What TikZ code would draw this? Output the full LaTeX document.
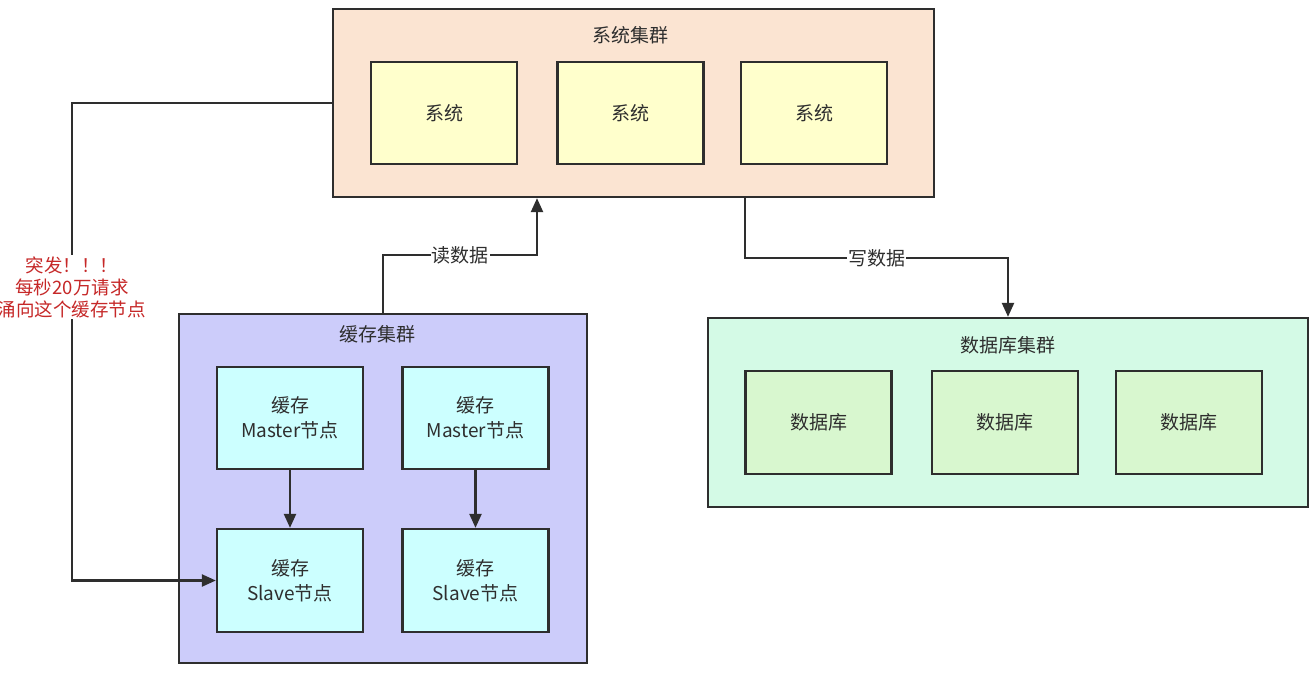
\documentclass[tikz,border=0pt]{standalone}
\usepackage{fontspec}
\setmainfont{Noto Sans CJK SC}
\usetikzlibrary{arrows.meta}
\definecolor{sysc}{HTML}{FBE4D2}
\definecolor{sysb}{HTML}{FFFFCC}
\definecolor{cachec}{HTML}{CCCCFA}
\definecolor{cacheb}{HTML}{CCFFFF}
\definecolor{dbc}{HTML}{D4FAE6}
\definecolor{dbb}{HTML}{D8F7CF}
\definecolor{ink}{HTML}{2E2E2E}
\definecolor{alert}{HTML}{C62828}
\tikzset{
  cluster/.style={draw=ink, line width=2.3pt, anchor=center},
  box/.style={draw=ink, line width=2.3pt, minimum width=146pt, minimum height=102pt, align=center, text=ink, font=\fontsize{19}{25}\selectfont},
  title/.style={text=ink, font=\fontsize{19}{22}\selectfont},
  arr/.style={draw=ink, line width=2.3pt, -{Triangle[length=14pt,width=12pt]}},
  lbl/.style={fill=white, inner sep=1pt, text=ink, font=\fontsize{19}{22}\selectfont},
  redtxt/.style={fill=white, inner sep=1pt, text=alert, align=center, font=\fontsize{18.5}{22}\selectfont}
}
\begin{document}
\begin{tikzpicture}[x=1pt,y=-1pt]
\useasboundingbox[fill=white] (0,0) rectangle (1316,672);
% clusters
\node[cluster, fill=sysc, minimum width=601pt, minimum height=188pt] (sys) at (633.5,103) {};
\node[title] (systitle) at (630,35) {系统集群};
\node[box, fill=sysb] (s1) at (444,113) {系统};
\node[box, fill=sysb] (s2) at (630.5,113) {系统};
\node[box, fill=sysb] (s3) at (814,113) {系统};

\node[cluster, fill=cachec, minimum width=408pt, minimum height=349pt] (cache) at (383,488.5) {};
\node[title] (cachetitle) at (377,334) {缓存集群};
\node[box, fill=cacheb] (m1) at (290,418) {缓存\\Master节点};
\node[box, fill=cacheb] (m2) at (475.5,418) {缓存\\Master节点};
\node[box, fill=cacheb, minimum height=103pt] (sl1) at (290,580.5) {缓存\\Slave节点};
\node[box, fill=cacheb, minimum height=103pt] (sl2) at (475.5,580.5) {缓存\\Slave节点};

\node[cluster, fill=dbc, minimum width=600pt, minimum height=189pt] (db) at (1008,412.5) {};
\node[title] (dbtitle) at (1008,345) {数据库集群};
\node[box, fill=dbb, minimum height=103pt] (d1) at (818.5,422.5) {数据库};
\node[box, fill=dbb, minimum height=103pt] (d2) at (1005,422.5) {数据库};
\node[box, fill=dbb, minimum height=103pt] (d3) at (1189,422.5) {数据库};

% master -> slave
\draw[arr] (m1) -- (sl1);
\draw[arr] (m2) -- (sl2);

% read
\coordinate (r1) at (537,255);
\draw[arr] (cache.north) |- node[lbl, pos=0.75] {读数据} (r1) -- (r1 |- sys.south);

% write
\coordinate (w0) at (745,258);
\draw[arr] (w0 |- sys.south) -- (w0) -| node[lbl, pos=0.25] {写数据} (db.north);

% burst
\coordinate (lx) at (72,0);
\draw[arr] (sys.west) -| (lx |- sl1.west) -- (sl1.west);
\node[redtxt] (burst) at (72,287) {突发！！！\\每秒20万请求\\涌向这个缓存节点};
\end{tikzpicture}
\end{document}
